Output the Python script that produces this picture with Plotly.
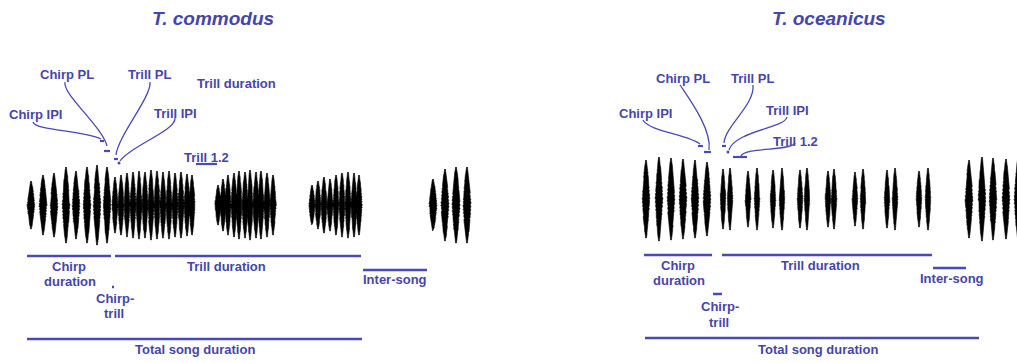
import math
import plotly.graph_objects as go

W, H = 1017, 363
TEXT = "#4646a8"
LINE = "#4a4ab4"
FONT = "Liberation Sans, Arial, sans-serif"

# ---- T. commodus: pulse times and amplitudes ----
commodus_chirp_t = [31, 43, 54, 66, 76, 87, 97, 107]
commodus_chirp_a = [24, 30, 32, 38, 34, 38, 40, 38]
commodus_trill1_t = [115, 121, 127, 133, 139, 145, 151, 157, 163, 169, 175, 181, 187, 192]
commodus_trill1_a = [28, 30, 32, 33, 34, 33, 35, 34, 33, 34, 32, 33, 31, 30]
commodus_trill2_t = [218, 223, 228, 234, 239, 245, 250, 256, 261, 267, 273]
commodus_trill2_a = [20, 26, 30, 32, 34, 33, 35, 33, 34, 32, 30]
commodus_trill3_t = [312, 318, 324, 330, 336, 342, 348, 354, 359]
commodus_trill3_a = [20, 24, 28, 26, 30, 32, 33, 32, 30]
commodus_next_t = [433, 445, 456, 467]
commodus_next_a = [26, 36, 38, 38]

# ---- T. oceanicus: pulse times and amplitudes ----
oceanicus_chirp_t = [646, 659, 671, 683, 695, 707]
oceanicus_chirp_a = [39, 42, 41, 40, 39, 37]
oceanicus_trill_t = [723, 730, 748, 757, 773, 782, 800, 807, 828, 834, 855, 863, 887, 895, 919, 928]
oceanicus_trill_a = [30, 31, 28, 31, 29, 31, 29, 31, 28, 30, 27, 30, 29, 31, 28, 31]
oceanicus_next_t = [969, 982, 993, 1006, 1018]
oceanicus_next_a = [39, 42, 41, 40, 40]

# ---- measured spans (start, end) ----
commodus_spans = {
    "chirp": (27, 111), "trill": (115, 361), "inter": (363, 427),
    "total": (27, 362), "chirp_trill": (112, 114),
}
oceanicus_spans = {
    "chirp": (644, 712), "trill": (722, 932), "inter": (933, 966),
    "total": (645, 979), "chirp_trill": (713, 722),
}


def spindle(cx, cy, amp, hw, n=60):
    """Closed outline of one pulse envelope (vertical spindle)."""
    xs, ys = [], []
    us = [-1 + 2 * i / (n - 1) for i in range(n)]
    for side in (1, -1):
        seq = us if side == 1 else us[::-1]
        for k, u in enumerate(seq):
            jag = 1 + 0.12 * math.sin(k * 2.3 + cx * 0.9 + side)
            w = hw * (1 - abs(u)) ** 0.6 * jag
            xs.append(cx + side * max(w, 0.4))
            ys.append(cy + amp * u)
    xs.append(None)
    ys.append(None)
    return xs, ys


def pulses(ts, amps, cy, hw):
    X, Y = [], []
    for t, a in zip(ts, amps):
        x, y = spindle(t, cy, a, hw)
        X += x
        Y += y
    return X, Y


fig = go.Figure()

wave_groups = [
    (commodus_chirp_t, commodus_chirp_a, 205, 3.6),
    (commodus_trill1_t, commodus_trill1_a, 205, 3.0),
    (commodus_trill2_t, commodus_trill2_a, 205, 3.0),
    (commodus_trill3_t, commodus_trill3_a, 205, 3.0),
    (commodus_next_t, commodus_next_a, 205, 3.8),
    (oceanicus_chirp_t, oceanicus_chirp_a, 199, 3.6),
    (oceanicus_trill_t, oceanicus_trill_a, 199, 2.7),
    (oceanicus_next_t, oceanicus_next_a, 199, 3.6),
]
for ts, amps, cy, hw in wave_groups:
    X, Y = pulses(ts, amps, cy, hw)
    fig.add_trace(go.Scatter(x=X, y=Y, mode="lines", fill="toself",
                             fillcolor="black", line=dict(color="black", width=0.6),
                             hoverinfo="skip"))

# ---- measurement bars ----
def bars(spans, rows):
    X, Y = [], []
    for key, yv in rows.items():
        x0, x1 = spans[key]
        X += [x0, x1, None]
        Y += [yv, yv, None]
    return X, Y

for spans, rows in [
    (commodus_spans, {"chirp": 256, "trill": 256, "inter": 270, "total": 339, "chirp_trill": 287}),
    (oceanicus_spans, {"chirp": 255, "trill": 255, "inter": 268, "total": 338, "chirp_trill": 294}),
]:
    X, Y = bars(spans, rows)
    fig.add_trace(go.Scatter(x=X, y=Y, mode="lines", line=dict(color=LINE, width=2.5),
                             hoverinfo="skip"))

# small pulse / interval marks near the leaders
marks_x = [100, 104, None, 104, 110, None, 114, 118, None, 196, 217, None,
           698, 703, None, 704, 711, None, 722, 726, None, 733, 747, None]
marks_y = [141, 141, None, 151, 151, None, 159, 159, None, 164, 164, None,
           146, 146, None, 152, 152, None, 146, 146, None, 157, 157, None]
fig.add_trace(go.Scatter(x=marks_x, y=marks_y, mode="lines",
                         line=dict(color=LINE, width=2.2), hoverinfo="skip"))
fig.add_trace(go.Scatter(x=[119, 728], y=[163, 152], mode="markers",
                         marker=dict(color=LINE, size=3), hoverinfo="skip"))

# ---- curved leaders ----
leaders = [
    "M 33,122 C 36,131 82,130 101,139",
    "M 65,82 C 62,94 102,126 107,146",
    "M 150,82 C 152,96 118,136 116,155",
    "M 175,118 C 176,131 130,146 120,161",
    "M 643,120 C 648,131 690,135 700,144",
    "M 680,85 C 690,100 712,130 709,150",
    "M 753,85 C 755,105 725,126 724,143",
    "M 787,117 C 785,128 735,131 729,150",
    "M 795,143 C 792,151 745,147 741,156",
]
shapes = [dict(type="path", path=p, xref="x", yref="y",
               line=dict(color=LINE, width=1.3), fillcolor="rgba(0,0,0,0)")
          for p in leaders]

# ---- labels ----
labels = [
    ("Chirp PL", 67, 74), ("Trill PL", 149, 74), ("Trill duration", 236, 83),
    ("Chirp IPI", 35, 114), ("Trill IPI", 175, 113), ("Trill 1.2", 206, 157),
    ("Chirp", 69, 266), ("duration", 70, 281), ("Chirp-", 115, 298), ("trill", 114, 313),
    ("Trill duration", 226, 266), ("Inter-song", 395, 279), ("Total song duration", 195, 349),
    ("Chirp PL", 683, 78), ("Trill PL", 752, 78), ("Chirp IPI", 645, 113),
    ("Trill IPI", 787, 110), ("Trill 1.2", 795, 141),
    ("Chirp", 678, 265), ("duration", 679, 280), ("Chirp-", 720, 306), ("trill", 719, 322),
    ("Trill duration", 820, 265), ("Inter-song", 952, 278), ("Total song duration", 818, 349),
]
annotations = [dict(text=t, x=x, y=y, xref="x", yref="y", showarrow=False,
                    font=dict(family=FONT, size=13, color=TEXT, weight="bold"))
               for t, x, y in labels]
for name, x in [("T. commodus", 213), ("T. oceanicus", 829)]:
    annotations.append(dict(text=f"<i>{name}</i>", x=x, y=18, xref="x", yref="y",
                            showarrow=False,
                            font=dict(family=FONT, size=19, color=TEXT, weight="bold")))

fig.update_layout(
    width=W, height=H, margin=dict(l=0, r=0, t=0, b=0),
    paper_bgcolor="white", plot_bgcolor="white", showlegend=False,
    xaxis=dict(range=[0, W], visible=False, fixedrange=True),
    yaxis=dict(range=[H, 0], visible=False, fixedrange=True),
    shapes=shapes, annotations=annotations,
)

fig.write_html("out.html")
